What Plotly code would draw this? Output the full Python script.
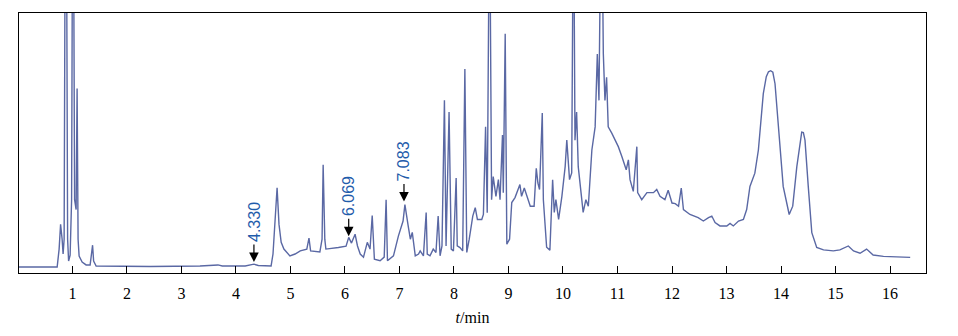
import plotly.graph_objects as go

# Retention time (min) and detector response (relative units, axis spans 0-100)
time_min = [
    0.02, 0.72, 0.756, 0.783, 0.811, 0.829, 0.848, 0.866, 0.893, 0.912, 0.930, 0.958, 0.985,
    1.000, 1.022, 1.040, 1.068, 1.086, 1.104, 1.123, 1.178, 1.251, 1.325, 1.352, 1.370, 1.389,
    1.435, 2.425, 3.34, 3.67, 3.75, 4.17, 4.33, 4.41, 4.645, 4.68, 4.73, 4.755, 4.79, 4.83,
    4.88, 4.99, 5.085, 5.18, 5.30, 5.32, 5.34, 5.37, 5.54, 5.58, 5.60, 5.63, 5.65, 5.88,
    6.02, 6.069, 6.12, 6.186, 6.23, 6.28, 6.34, 6.41, 6.46, 6.50, 6.54, 6.645, 6.72, 6.755,
    6.78, 6.89, 6.98, 7.066, 7.10, 7.16, 7.20, 7.235, 7.29, 7.35, 7.38, 7.44, 7.49, 7.51,
    7.56, 7.62, 7.67, 7.71, 7.745, 7.78, 7.825, 7.855, 7.91, 7.95, 7.99, 8.04, 8.06, 8.11,
    8.16, 8.20, 8.235, 8.28, 8.345, 8.39, 8.43, 8.51, 8.54, 8.58, 8.61, 8.645, 8.66, 8.69,
    8.72, 8.77, 8.815, 8.845, 8.89, 8.905, 8.94, 8.97, 9.02, 9.06, 9.12, 9.21, 9.24, 9.29,
    9.34, 9.40, 9.47, 9.51, 9.54, 9.57, 9.62, 9.64, 9.70, 9.76, 9.81, 9.84, 9.87, 9.92,
    9.98, 10.04, 10.07, 10.12, 10.16, 10.185, 10.20, 10.22, 10.25, 10.28, 10.345, 10.37,
    10.42, 10.465, 10.53, 10.59, 10.63, 10.66, 10.69, 10.72, 10.74, 10.77, 10.80, 10.83,
    10.895, 10.955, 11.015, 11.08, 11.16, 11.20, 11.23, 11.29, 11.355, 11.37, 11.445, 11.54,
    11.66, 11.72, 11.78, 11.87, 11.93, 12.00, 12.06, 12.12, 12.17, 12.21, 12.33, 12.48,
    12.575, 12.67, 12.73, 12.79, 12.88, 13.005, 13.065, 13.125, 13.22, 13.31, 13.37, 13.43,
    13.52, 13.585, 13.675, 13.73, 13.77, 13.81, 13.85, 13.89, 13.95, 14.04, 14.15, 14.215,
    14.29, 14.35, 14.38, 14.41, 14.44, 14.50, 14.565, 14.655, 14.78, 14.96, 15.08, 15.235,
    15.33, 15.45, 15.57, 15.69, 15.88, 16.12, 16.37,
]
response = [
    2.3, 2.3, 9.2, 18.7, 13.0, 7.3, 13.0, 127, 127, 13.0, 4.6, 6.9, 28.2,
    127, 127, 28.2, 24.4, 71.0, 13.0, 6.5, 4.2, 3.1, 3.1, 7.3, 10.7, 4.6,
    2.7, 2.5, 2.7, 3.1, 2.7, 2.7, 3.4, 2.9, 2.7, 7.3, 22.5, 32.8, 18.7, 11.8,
    9.2, 6.6, 7.3, 8.5, 9.2, 11.1, 13.4, 8.5, 8.1, 13.0, 41.6, 13.0, 9.2, 9.8,
    10.3, 13.7, 11.5, 14.9, 10.4, 7.3, 6.1, 11.8, 9.2, 22.1, 5.3, 4.7, 6.1, 28.2,
    4.7, 6.6, 14.2, 20.0, 26.3, 18.1, 13.0, 15.6, 6.6, 7.3, 8.5, 6.6, 23.3, 7.3,
    6.6, 9.2, 7.9, 21.9, 6.6, 10.4, 66.4, 10.4, 61.9, 9.2, 8.5, 36.5, 10.4, 9.8,
    8.5, 78.5, 7.9, 13.0, 21.9, 25.1, 20.6, 20.6, 22.5, 56.2, 23.2, 127, 127, 28.2,
    37.1, 29.5, 35.9, 28.2, 53.1, 30.9, 92.0, 11.1, 13.0, 27.1, 29.0, 34.0, 29.5, 32.7,
    29.5, 25.7, 25.7, 40.3, 34.6, 32.1, 61.5, 28.2, 9.9, 8.8, 35.9, 23.3, 28.2, 20.6,
    29.5, 40.9, 51.1, 35.9, 38.5, 127, 127, 51.1, 61.9, 40.9, 28.2, 23.3,
    28.2, 25.7, 47.3, 56.2, 84.2, 66.4, 127, 127, 84.4, 66.4, 75.3, 56.2,
    53.8, 51.1, 48.6, 44.8, 39.7, 43.5, 35.9, 31.4, 48.6, 30.9, 28.2, 30.9,
    30.9, 32.1, 29.5, 28.2, 31.8, 26.9, 26.7, 25.7, 32.7, 24.4, 22.5, 21.3,
    20.0, 21.3, 21.9, 19.4, 18.1, 18.1, 19.1, 18.1, 20.0, 20.6, 24.4, 33.3,
    38.4, 47.3, 69.0, 75.5, 77.4, 77.8, 77.2, 72.8, 56.2, 33.3, 22.5, 25.7,
    40.9, 51.0, 54.2, 54.0, 51.1, 33.3, 15.5, 9.8, 8.9, 8.5, 8.9, 10.4,
    8.5, 7.6, 9.2, 6.9, 6.4, 6.2, 6.0,
]

# Marked peaks
peak_labels = ["4.330", "6.069", "7.083"]
peak_times = [4.330, 6.069, 7.083]
peak_tips = [4.2, 14.1, 27.5]

tick_vals = list(range(1, 17))
tick_text = [str(v) for v in tick_vals]

fig = go.Figure()
fig.add_trace(go.Scatter(
    x=time_min, y=response, mode="lines",
    line=dict(color="#5a68a4", width=1.4),
    hoverinfo="skip", showlegend=False,
))

for lab, t, tip in zip(peak_labels, peak_times, peak_tips):
    fig.add_annotation(
        x=t, y=tip, xref="x", yref="y", text="", showarrow=True,
        ax=0, ay=-19, arrowhead=2, arrowsize=1.6, arrowwidth=1.2, arrowcolor="black",
        standoff=0,
    )
    fig.add_annotation(
        x=t, y=tip, xref="x", yref="y", text=lab, showarrow=False,
        textangle=-90, xanchor="center", yanchor="bottom", yshift=18,
        font=dict(family="Liberation Sans, Arial", size=16, color="#1f5cab"),
    )

fig.update_layout(
    width=958, height=336,
    margin=dict(l=19, r=32, t=12, b=62),
    paper_bgcolor="white", plot_bgcolor="white",
    font=dict(family="Liberation Serif, Times New Roman", size=16, color="black"),
)
fig.update_xaxes(
    range=[0.02, 16.66], tickvals=tick_vals, ticktext=tick_text,
    ticks="inside", ticklen=7, tickwidth=1.2, tickcolor="black",
    showline=True, linecolor="black", linewidth=1.3, mirror=True,
    showgrid=False, zeroline=False, ticklabelstandoff=6,
    title=dict(text="<i>t</i>/min", standoff=10,
               font=dict(family="Liberation Serif, Times New Roman", size=16)),
)
fig.update_yaxes(
    range=[0, 100], showticklabels=False, ticks="",
    showline=True, linecolor="black", linewidth=1.3, mirror=True,
    showgrid=False, zeroline=False,
)

fig.write_html(
    "out.html",
    config={"displayModeBar": False},
    post_script="document.body.style.margin='0';document.body.style.padding='0';",
)
